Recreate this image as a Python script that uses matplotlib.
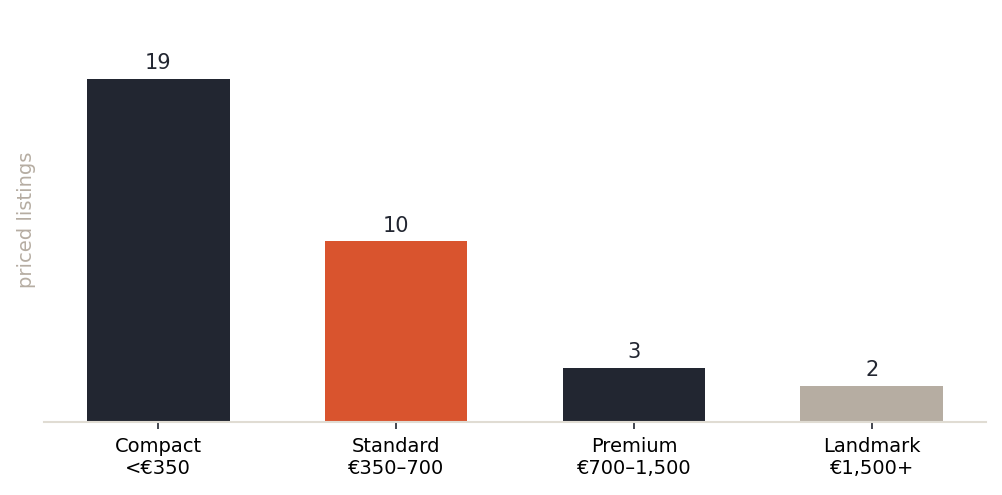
import matplotlib
matplotlib.use("Agg")
import matplotlib.pyplot as plt

# data
categories = ["Compact\n<€350", "Standard\n€350–700", "Premium\n€700–1,500", "Landmark\n€1,500+"]
counts = [19, 10, 3, 2]
bar_colors = ["#222631", "#D9542E", "#222631", "#B6ADA2"]

fig = plt.figure(figsize=(10.02, 4.95), dpi=100)
ax = fig.add_axes([0.044, 0.1475, 0.940, 0.818])

x = range(len(categories))
bars = ax.bar(x, counts, width=0.6, color=bar_colors)
ax.set_ylim(0, 19 * 1.18)

for b, v in zip(bars, counts):
    ax.annotate(str(v), (b.get_x() + b.get_width() / 2, v),
                xytext=(0, 4), textcoords="offset points",
                ha="center", va="bottom", fontsize=15, color="#222631")

ax.set_xticks(list(x))
ax.set_xticklabels(categories, fontsize=14)
ax.tick_params(axis="x", length=5, width=1.2, color="#222631", pad=6)
ax.set_yticks([])
ax.set_ylabel("priced listings", fontsize=14, color="#B6ADA2", labelpad=6)

for side in ["top", "right", "left"]:
    ax.spines[side].set_visible(False)
ax.spines["bottom"].set_color("#E0DCD3")
ax.spines["bottom"].set_linewidth(1.5)

fig.savefig("out.png", dpi=100)
